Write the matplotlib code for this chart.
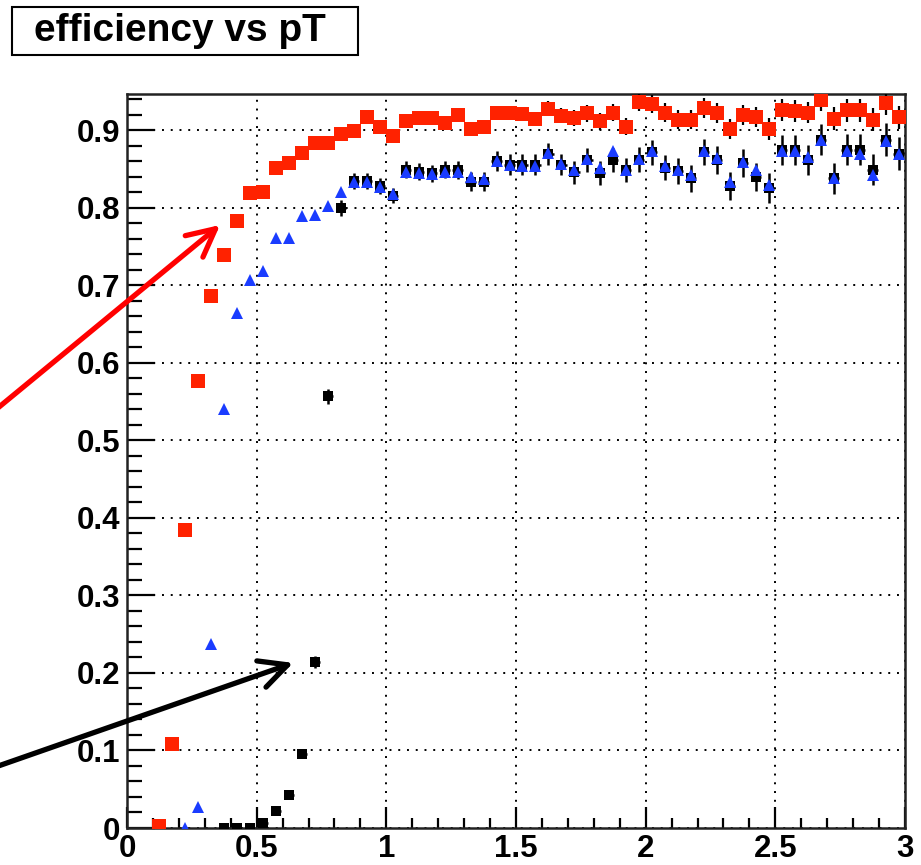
import numpy as np
import matplotlib
matplotlib.use("Agg")
import matplotlib.pyplot as plt
from matplotlib.ticker import MultipleLocator, FixedLocator, FixedFormatter
from matplotlib.patches import Rectangle

plt.rcParams['font.family'] = ['Liberation Sans', 'DejaVu Sans']

# ---------------- data ----------------
title = "efficiency vs pT"
bin_width = 0.05

red_first = 0.125
red_eff = [0.002, 0.109, 0.385, 0.577, 0.686, 0.739, 0.783, 0.819, 0.821, 0.851,
           0.858, 0.871, 0.884, 0.884, 0.895, 0.899, 0.917, 0.905, 0.893, 0.912,
           0.916, 0.916, 0.909, 0.920, 0.902, 0.905, 0.923, 0.923, 0.921, 0.915,
           0.928, 0.919, 0.916, 0.922, 0.912, 0.923, 0.905, 0.937, 0.934, 0.923,
           0.914, 0.914, 0.929, 0.923, 0.902, 0.920, 0.917, 0.902, 0.926, 0.925,
           0.923, 0.939, 0.915, 0.926, 0.926, 0.914, 0.935, 0.917]
red_err = [0.002, 0.004, 0.005, 0.005, 0.005, 0.005, 0.005, 0.005, 0.005, 0.005,
           0.005, 0.005, 0.005, 0.005, 0.005, 0.005, 0.006, 0.006, 0.006, 0.006,
           0.007, 0.007, 0.007, 0.007, 0.008, 0.008, 0.008, 0.008, 0.009, 0.009,
           0.010, 0.010, 0.010, 0.011, 0.011, 0.011, 0.011, 0.012, 0.012, 0.012,
           0.012, 0.012, 0.013, 0.013, 0.013, 0.013, 0.013, 0.014, 0.014, 0.014,
           0.014, 0.014, 0.015, 0.015, 0.015, 0.015, 0.015, 0.015]

blue_first = 0.225
blue_eff = [0.000, 0.027, 0.237, 0.540, 0.664, 0.707, 0.718, 0.761, 0.761, 0.789,
            0.791, 0.803, 0.820, 0.833, 0.833, 0.827, 0.818, 0.847, 0.845, 0.844,
            0.847, 0.847, 0.840, 0.837, 0.860, 0.856, 0.854, 0.854, 0.871, 0.857,
            0.849, 0.863, 0.851, 0.873, 0.849, 0.863, 0.873, 0.854, 0.849, 0.843,
            0.873, 0.864, 0.833, 0.859, 0.849, 0.830, 0.874, 0.874, 0.866, 0.888,
            0.838, 0.874, 0.869, 0.842, 0.887, 0.870]

black_first = 0.375
black_eff = [0.000, 0.000, 0.000, 0.006, 0.022, 0.042, 0.096, 0.214, 0.557, 0.800,
             0.835, 0.835, 0.828, 0.816, 0.849, 0.847, 0.845, 0.849, 0.849, 0.834,
             0.834, 0.861, 0.856, 0.856, 0.856, 0.870, 0.856, 0.846, 0.862, 0.845,
             0.862, 0.849, 0.862, 0.872, 0.852, 0.848, 0.838, 0.872, 0.862, 0.828,
             0.858, 0.840, 0.826, 0.875, 0.875, 0.862, 0.888, 0.838, 0.875, 0.875,
             0.849, 0.888, 0.870]
black_err = [0.002, 0.002, 0.002, 0.003, 0.004, 0.005, 0.006, 0.008, 0.010, 0.010,
             0.010, 0.010, 0.010, 0.010, 0.011, 0.011, 0.011, 0.011, 0.012, 0.012,
             0.012, 0.013, 0.013, 0.014, 0.014, 0.014, 0.014, 0.015, 0.015, 0.015,
             0.015, 0.016, 0.016, 0.016, 0.016, 0.017, 0.017, 0.017, 0.018, 0.018,
             0.018, 0.018, 0.019, 0.019, 0.019, 0.019, 0.020, 0.020, 0.020, 0.020,
             0.020, 0.021, 0.021]

x_ticks = [0, 0.5, 1, 1.5, 2, 2.5, 3]
x_ticklabels = ["0", "0.5", "1", "1.5", "2", "2.5", "3"]
y_ticks = [0, 0.1, 0.2, 0.3, 0.4, 0.5, 0.6, 0.7, 0.8, 0.9]
y_ticklabels = ["0", "0.1", "0.2", "0.3", "0.4", "0.5", "0.6", "0.7", "0.8", "0.9"]


def centers(first, n):
    return first + bin_width * np.arange(n)


red_x = centers(red_first, len(red_eff))
blue_x = centers(blue_first, len(blue_eff))
black_x = centers(black_first, len(black_eff))

# ---------------- figure ----------------
W, H, DPI = 921, 865, 100
fig = plt.figure(figsize=(W / DPI, H / DPI), dpi=DPI)
ax = fig.add_axes([127 / W, 1 - 828 / H, (905 - 127) / W, (828 - 94) / H])

RED = '#ff2200'
BLUE = '#1a3cff'

ax.errorbar(red_x, red_eff, yerr=red_err, fmt='s', color=RED, ecolor='black',
            elinewidth=1.6, markersize=9.5, markeredgewidth=0, capsize=0, zorder=3)
ax.errorbar(black_x, black_eff, yerr=black_err, xerr=0.02, fmt='s', color='black',
            ecolor='black', elinewidth=1.8, markersize=7.5, markeredgewidth=0,
            capsize=0, zorder=4)
ax.plot(blue_x, blue_eff, '^', color=BLUE, markersize=8.5, markeredgewidth=0,
        linestyle='none', zorder=5)

ax.set_xlim(0, 3)
ax.set_ylim(0, 0.947)

ax.xaxis.set_major_locator(FixedLocator(x_ticks))
ax.xaxis.set_major_formatter(FixedFormatter(x_ticklabels))
ax.yaxis.set_major_locator(FixedLocator(y_ticks))
ax.yaxis.set_major_formatter(FixedFormatter(y_ticklabels))
ax.xaxis.set_minor_locator(MultipleLocator(0.1))
ax.yaxis.set_minor_locator(MultipleLocator(0.02))

ax.tick_params(axis='both', which='both', direction='in', top=False, right=False,
               width=1.6, color='black')
ax.tick_params(axis='x', which='major', length=15, pad=4)
ax.tick_params(axis='x', which='minor', length=7)
ax.tick_params(axis='y', which='major', length=20, pad=5)
ax.tick_params(axis='y', which='minor', length=11)
for lab in ax.get_xticklabels() + ax.get_yticklabels():
    lab.set_fontsize(22.5)
    lab.set_fontweight('bold')

for sp in ax.spines.values():
    sp.set_linewidth(1.8)
    sp.set_color('#222222')

ax.grid(True, which='major', color='black', linestyle=(0, (1, 3.5)), linewidth=1.4)
ax.set_axisbelow(True)

# title box
box = Rectangle((12 / W, 1 - 55 / H), (358 - 12) / W, (55 - 7) / H,
                transform=fig.transFigure, fill=False, edgecolor='black',
                linewidth=1.5)
fig.patches.append(box)
fig.text(180 / W, 1 - 31 / H, title, ha='center', va='center',
         fontsize=28, fontweight='bold')

# arrows
ax.annotate('', xy=(0.359, 0.778), xycoords='data',
            xytext=(-0.005, 1 - 410 / H), textcoords='figure fraction',
            arrowprops=dict(arrowstyle='->, head_length=1.0, head_width=0.5',
                            color='#ff0000', lw=3.8, mutation_scale=20,
                            shrinkA=0, shrinkB=0),
            annotation_clip=False)
ax.annotate('', xy=(0.641, 0.213), xycoords='data',
            xytext=(-0.005, 1 - 767 / H), textcoords='figure fraction',
            arrowprops=dict(arrowstyle='->, head_length=1.0, head_width=0.5',
                            color='black', lw=3.8, mutation_scale=20,
                            shrinkA=0, shrinkB=0),
            annotation_clip=False)

fig.savefig('out.png', dpi=DPI)
